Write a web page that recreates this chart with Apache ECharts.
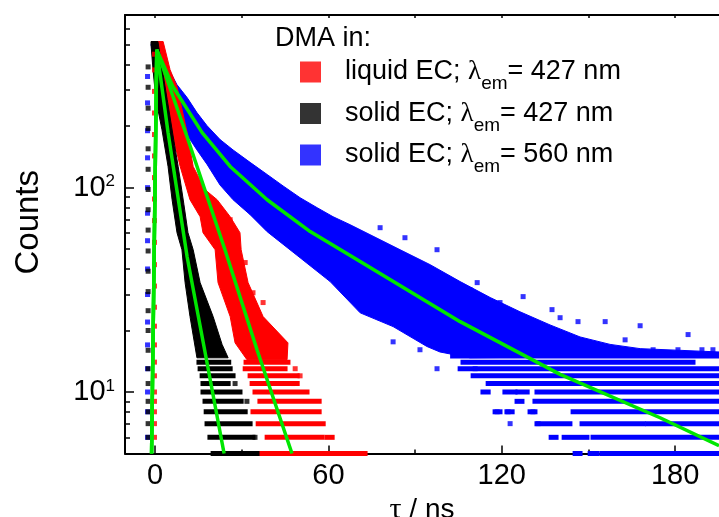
<!DOCTYPE html>
<html>
<head>
<meta charset="utf-8">
<script src="https://cdn.jsdelivr.net/npm/echarts@6/dist/echarts.min.js"></script>
<style>
html,body{margin:0;padding:0;background:#fff}
#chart{width:719px;height:517px}
</style>
</head>
<body>
<div id="chart"></div>
<script>
// ---------- axes / ticks ----------
const xMin = -10.4, xMax = 195.2;
const yMin = 5, yMax = 700;
const xMajorTicks = [0, 60, 120, 180];
const xMinorTicks = [30, 90, 150];
const xTopTicks = [0, 30, 60, 90, 120, 150, 180];
const yMajorTicks = [10, 100];
const yMinorTicks = [6, 7, 8, 9, 20, 30, 40, 50, 60, 70, 80, 90, 200, 300, 400, 500, 600];

// ---------- legend ----------
const seriesNames = ['liquid EC; λem= 427 nm', 'solid EC; λem= 427 nm', 'solid EC; λem= 560 nm'];
const legendParts = [['liquid EC; ', 'em', '= 427 nm'], ['solid EC; ', 'em', '= 427 nm'], ['solid EC; ', 'em', '= 560 nm']];

// ---------- solid EC, 427 nm (black) ----------
// dense part of the point cloud: outline [ns, counts]
const blackCore = [[-1.4,519],[1.0,519],[2.8,357],[4.2,270],[6.2,181],[8.0,127],[10.0,82.6],[11.4,60.2],[13.2,49.7],[15.6,34.3],[20.1,23.4],[23.2,17.1],[25.3,14.7],[14.5,14.7],[12.1,23.4],[10.4,34.3],[9.3,49.7],[7.6,60.2],[5.9,87.3],[4.5,127],[2.4,192],[0.3,270],[-0.7,378],[-1.4,501]];
// rows of points at one integer count: [counts, from ns, to ns]
const blackRuns = [[14,15.2,25.5],[13,15.6,26.0],[12,16.3,27.0],[11,16.6,25.3],[10,16.6,29.4],[9,17.3,29.8],[8,17.7,31.2],[7,18.0,32.9],[6,19.0,33.9],[5,20.1,35.3]];
// single points [ns, counts]
const blackPts = [[-2.4,6],[-2.4,7],[-2.4,8],[-2.4,9],[-2.4,11],[-2.4,13],[-2.4,16],[-2.4,20],[-2.4,25],[-2.4,31],[-2.4,39],[-2.4,49],[-2.4,62],[-2.4,78],[-2.4,98],[-2.4,123],[-2.4,155],[-2.4,195],[-2.4,245],[-2.4,310],[-2.4,390],[27.7,11],[31.8,9],[34.6,6]];

// ---------- liquid EC, 427 nm (red) ----------
const redCore = [[0,519],[2.8,519],[5.2,378],[7.6,312],[11.1,186],[13.2,127],[17.3,97.8],[21.5,87.3],[26.0,72.1],[29.4,60.2],[29.8,49.7],[32.2,34.3],[37.4,23.4],[46.0,17.4],[45.7,14.4],[31.8,14.4],[27.7,17.4],[26.0,23.4],[21.8,34.3],[20.8,49.7],[16.6,60.2],[15.6,72.1],[12.1,87.3],[8.7,127],[5.9,186],[2.8,312],[0.7,473]];
const redRuns = [[14,31.5,46.0],[13,31.2,45.0],[12,32.9,49.2],[11,33.6,49.2],[10,34.6,52.6],[9,36.3,56.8],[8,33.9,56.8],[7,35.7,58.2],[6,38.8,57.8],[6,59.5,61.3],[5,35.7,72.7]];
const redPts = [[-0.2,6],[-0.2,7],[-0.2,8],[-0.2,9],[-0.2,10],[-0.2,12],[-0.2,14],[-0.2,17],[-0.2,21],[-0.2,26],[-0.2,33],[-0.2,42],[-0.2,54],[-0.2,69],[-0.2,88],[-0.2,112],[-0.2,143],[-0.2,182],[-0.2,232],[-0.2,296],[-0.2,377],[-0.2,450],[23.2,34.3],[31.2,43.0],[33.9,30.6],[37.4,27.4],[48.5,13],[47.8,11],[26.0,69.7],[50.2,12]];

// ---------- solid EC, 560 nm (blue) ----------
const blueCore = [[-1.0,519],[1.7,519],[4.5,386],[7.6,319],[11.1,276],[14.5,233],[18.0,201],[22.5,172],[27.0,153],[32.9,133],[38.8,116],[44.3,102],[50.2,89.3],[56.1,79.8],[61.6,72.1],[67.5,65.9],[74.4,58.9],[84.8,49.7],[95.2,42.0],[105.6,34.7],[116.0,29.0],[126.3,24.7],[136.7,21.3],[147.1,18.6],[157.5,17.1],[167.9,16.3],[195.2,15.7],[195.2,15.1],[109.0,14.7],[98.6,15.7],[94.1,16.7],[82.4,20.9],[71.0,24.4],[60.6,34.7],[50.2,45.4],[38.8,60.9],[32.9,73.8],[27.0,87.3],[22.5,103],[18.0,130],[14.5,153],[11.1,181],[7.6,220],[4.5,270],[1.7,338],[0,423],[-1.4,501]];
const blueRuns = [[15,103.0,195.2],[14,106.6,186.2],[13,105.6,195.2],[12,110.1,195.2],[11,115.3,195.2],[10,113.5,115.3],[10,121.1,124.6],[10,125.6,128.8],[10,132.2,195.2],[9,125.3,127.0],[9,131.5,195.2],[8,117.7,119.4],[8,121.8,123.6],[8,129.8,131.5],[8,144.7,195.2],[7,132.2,143.6],[7,147.8,169.0],[7,170.5,195.2],[6,137.1,138.8],[6,141.6,149.5],[6,151.6,195.2],[5,145.4,147.1],[5,150.6,153.0],[5,154.7,195.2]];
const bluePts = [[-2.6,6],[-2.6,8],[-2.6,10],[-2.6,13],[-2.6,17],[-2.6,22],[-2.6,30],[-2.6,40],[-2.6,55],[-2.6,75],[-2.6,100],[-2.6,140],[-2.6,190],[-2.6,260],[-2.6,350],
  [77.9,63.7],[86.5,56.9],[97.6,49.7],[111.5,34.3],[119.4,27.4],[127.4,29.3],[137.4,25.3],[146.4,22.1],[155.8,22.1],[162.7,18.0],[172.4,16.1],[181.0,16.1],[184.5,19.1],[189.3,16.1],[193.1,16.1],[167.9,21.1],[140.2,23.1],[102.1,35.5],[109.0,31.7],
  [77.9,23.1],[82.4,17.6],[91.7,16.1],[97.6,13],[110.8,13],[118.4,8],[122.2,8],[122.9,7],[130.8,8],[132.6,7]];

// ---------- fitted curves (green) ----------
const fitBlack = [[-1.2,5],[0.6,473],[4.5,186],[11.1,45.9],[23.9,5]];
const fitRed = [[-1.2,5],[0.6,473],[11.4,172],[24.2,49.7],[35.3,16.1],[47.4,5]];
const fitBlue = [[-1.2,5],[0.6,473],[6.2,312],[16.3,186],[26.0,127],[38.8,87.3],[53.7,61.0],[71.0,43.5],[105.6,22.1],[140.2,12.2],[174.8,7.48],[195.2,5.46]];

const RED = '#ff0000', BLACK = '#000000', BLUE = '#0000ff', GREEN = '#00e600';
const FONT = 'Liberation Sans';

function coreSeries(name, pts, color) {
  return {
    type: 'custom', name: name, data: pts, encode: {x: 0, y: 1}, clip: false, silent: true,
    renderItem: function (params, api) {
      if (params.dataIndex !== 0) return null;
      const points = pts.map(function (p) { return api.coord(p); });
      return {type: 'polygon', shape: {points: points}, style: {fill: color, stroke: color, lineWidth: 1}};
    }
  };
}
function runSeries(name, runs, color) {
  return {
    type: 'custom', name: name, data: runs, encode: {x: [1, 2], y: 0}, clip: false, silent: true,
    renderItem: function (params, api) {
      const a = api.coord([api.value(1), api.value(0)]);
      const b = api.coord([api.value(2), api.value(0)]);
      return {type: 'rect', shape: {x: a[0] - 2.5, y: a[1] - 2.5, width: b[0] - a[0] + 5, height: 5}, style: {fill: color}};
    }
  };
}
function ptSeries(name, pts, color) {
  return {type: 'scatter', name: name, data: pts, symbol: 'rect', symbolSize: 5, itemStyle: {color: color}, clip: false, silent: true};
}
function fitSeries(name, pts) {
  return {type: 'line', name: name, data: pts, showSymbol: false, symbol: 'none', clip: true, silent: true,
    lineStyle: {color: GREEN, width: 3.5}, itemStyle: {color: GREEN}, z: 5};
}

const axisLineStyle = {color: '#000', width: 2};
const chart = echarts.init(document.getElementById('chart'), null, {renderer: 'canvas'});
chart.setOption({
  animation: false,
  backgroundColor: '#fff',
  title: {text: 'DMA in:', left: 275, top: 25, padding: 0,
    textStyle: {fontSize: 27, fontWeight: 'normal', color: '#000', fontFamily: FONT}},
  legend: {
    orient: 'vertical', left: 300, top: 50.5, itemWidth: 21, itemHeight: 21, itemGap: -1.5,
    icon: 'rect', selectedMode: false, data: seriesNames, padding: 0,
    formatter: function (name) {
      const p = legendParts[seriesNames.indexOf(name)];
      return '{n|' + p[0] + '}{l|λ}{s|' + p[1] + '}{n|' + p[2] + '}';
    },
    textStyle: {padding: [0, 0, 0, 19], color: '#000',
      rich: {
        n: {fontSize: 27, fontFamily: FONT, color: '#000', lineHeight: 30},
        l: {fontSize: 27, fontFamily: 'Liberation Serif', color: '#000', lineHeight: 30},
        s: {fontSize: 19, fontFamily: FONT, color: '#000', lineHeight: 30, padding: [24, 0, 0, 0]}
      }}
  },
  grid: [
    {left: 125, right: 0, top: 15, bottom: 63.5, outerBoundsMode: 'none'},
    {left: 125, right: 0, top: 15, bottom: 63.5, outerBoundsMode: 'none'}
  ],
  xAxis: [
    {gridIndex: 0, type: 'value', position: 'bottom', min: xMin, max: xMax,
      axisLine: {onZero: false, lineStyle: axisLineStyle},
      axisTick: {inside: true, length: 8, lineStyle: {color: '#000', width: 1.5}, customValues: xMajorTicks},
      axisLabel: {customValues: xMajorTicks, fontSize: 29, color: '#000', fontFamily: FONT, margin: 8},
      splitLine: {show: false},
      name: '{t|τ}{u| / ns}', nameLocation: 'middle', nameGap: 29,
      nameTextStyle: {rich: {
        t: {fontSize: 30, fontFamily: 'Liberation Serif', color: '#000'},
        u: {fontSize: 28, fontFamily: FONT, color: '#000'}}}},
    {gridIndex: 0, type: 'value', position: 'top', min: xMin, max: xMax,
      axisLine: {onZero: false, lineStyle: axisLineStyle},
      axisTick: {inside: true, length: 3, lineStyle: {color: '#000', width: 1.5}, customValues: xTopTicks},
      axisLabel: {show: false}, splitLine: {show: false}},
    {gridIndex: 1, type: 'value', position: 'bottom', min: xMin, max: xMax,
      axisLine: {show: false, onZero: false},
      axisTick: {inside: true, length: 4, lineStyle: {color: '#000', width: 1.5}, customValues: xMinorTicks},
      axisLabel: {show: false}, splitLine: {show: false}}
  ],
  yAxis: [
    {gridIndex: 0, type: 'log', logBase: 10, min: yMin, max: yMax, position: 'left',
      axisLine: {onZero: false, lineStyle: axisLineStyle},
      axisTick: {inside: true, length: 9, lineStyle: {color: '#000', width: 1.5}, customValues: yMajorTicks},
      axisLabel: {customValues: yMajorTicks, margin: 10,
        formatter: function (v) { return '{b|10}{p|' + Math.round(Math.log10(v)) + '}'; },
        rich: {
          b: {fontSize: 29, fontFamily: FONT, color: '#000', lineHeight: 34},
          p: {fontSize: 17, fontFamily: FONT, color: '#000', lineHeight: 34, padding: [0, 0, 12, 0]}}},
      splitLine: {show: false},
      name: 'Counts', nameLocation: 'middle', nameGap: 80,
      nameTextStyle: {fontSize: 33, fontFamily: FONT, color: '#000', padding: [0, 0, 0, 24]}},
    {gridIndex: 1, type: 'log', logBase: 10, min: yMin, max: yMax, position: 'left',
      axisLine: {show: false, onZero: false},
      axisTick: {inside: true, length: 5, lineStyle: {color: '#000', width: 1.5}, customValues: yMinorTicks},
      axisLabel: {show: false}, splitLine: {show: false}}
  ],
  series: [
    coreSeries('blue core', blueCore, BLUE),
    runSeries('blue rows', blueRuns, BLUE),
    ptSeries(seriesNames[2], bluePts, BLUE),
    coreSeries('red core', redCore, RED),
    runSeries('red rows', redRuns, RED),
    ptSeries(seriesNames[0], redPts, RED),
    coreSeries('black core', blackCore, BLACK),
    runSeries('black rows', blackRuns, BLACK),
    ptSeries(seriesNames[1], blackPts, BLACK),
    fitSeries('fit blue', fitBlue),
    fitSeries('fit red', fitRed),
    fitSeries('fit black', fitBlack)
  ]
});
</script>
</body>
</html>
